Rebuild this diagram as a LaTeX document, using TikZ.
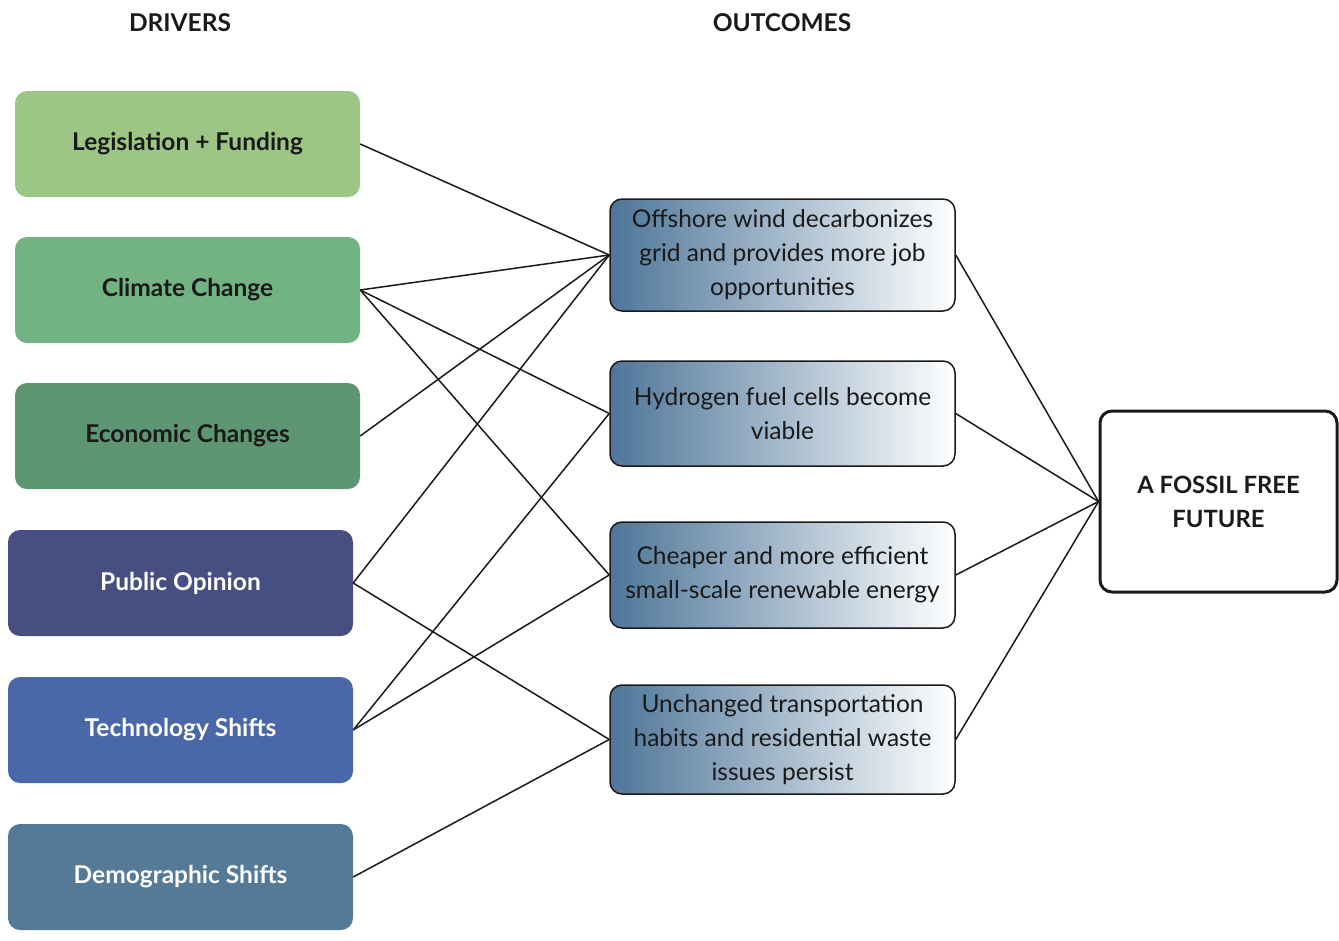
\documentclass[tikz,border=0pt]{standalone}
\usepackage{fontspec}
\setmainfont{Lato}
\definecolor{cLeg}{HTML}{9DC585}
\definecolor{cCli}{HTML}{72B283}
\definecolor{cEco}{HTML}{5E9673}
\definecolor{cPub}{HTML}{474F82}
\definecolor{cTec}{HTML}{4A67A9}
\definecolor{cDem}{HTML}{547A98}
\definecolor{cOut}{HTML}{4E7699}
\definecolor{ink}{HTML}{1A1A1A}
\begin{document}
\begin{tikzpicture}[x=1pt,y=-1pt,
  driver/.style={rectangle, rounded corners=12pt, minimum width=345pt, minimum height=106pt,
    font=\fontsize{24.5}{28}\selectfont\bfseries, inner sep=0pt},
  outcome/.style={rectangle, rounded corners=12pt, minimum width=345pt, draw=ink, line width=1.5pt,
    left color=cOut, right color=white, align=center, text=ink,
    font=\fontsize{24.5}{34}\selectfont, inner sep=0pt},
  final/.style={rectangle, rounded corners=12pt, minimum width=237pt, minimum height=181pt,
    draw=ink, line width=3pt, align=center, text=ink, font=\fontsize{23.8}{34}\selectfont\bfseries},
  header/.style={font=\fontsize{24.5}{28}\selectfont\bfseries, text=ink},
  link/.style={draw=ink, line width=1.5pt}]
\useasboundingbox (0,0) rectangle (1339,940);
\node[header] (hd) at (180,23) {DRIVERS};
\node[header] (ho) at (782,23) {OUTCOMES};

\node[driver, fill=cLeg, text=ink] (L) at (187.5,144) {Legislation + Funding};
\node[driver, fill=cCli, text=ink] (C) at (187.5,290) {Climate Change};
\node[driver, fill=cEco, text=ink] (E) at (187.5,436) {Economic Changes};
\node[driver, fill=cPub, text=white] (P) at (180.5,583) {Public Opinion};
\node[driver, fill=cTec, text=white] (T) at (180.5,730) {Technology Shifts};
\node[driver, fill=cDem, text=white] (D) at (180.5,877) {Demographic Shifts};

\node[outcome, minimum height=112pt] (O1) at (782.5,255) {Offshore wind decarbonizes\\grid and provides more job\\opportunities};
\node[outcome, minimum height=105pt] (O2) at (782.5,413.5) {Hydrogen fuel cells become\\viable};
\node[outcome, minimum height=106pt] (O3) at (782.5,575) {Cheaper and more efficient\\small-scale renewable energy};
\node[outcome, minimum height=109pt] (O4) at (782.5,739.5) {Unchanged transportation\\habits and residential waste\\issues persist};

\node[final] (F) at (1218.5,501.5) {A FOSSIL FREE\\FUTURE};

\draw[link] (L.east) -- (O1.west);
\draw[link] (C.east) -- (O1.west);
\draw[link] (C.east) -- (O2.west);
\draw[link] (C.east) -- (O3.west);
\draw[link] (E.east) -- (O1.west);
\draw[link] (P.east) -- (O1.west);
\draw[link] (P.east) -- (O4.west);
\draw[link] (T.east) -- (O2.west);
\draw[link] (T.east) -- (O3.west);
\draw[link] (D.east) -- (O4.west);
\draw[link] (O1.east) -- (F.west);
\draw[link] (O2.east) -- (F.west);
\draw[link] (O3.east) -- (F.west);
\draw[link] (O4.east) -- (F.west);
\end{tikzpicture}
\end{document}
